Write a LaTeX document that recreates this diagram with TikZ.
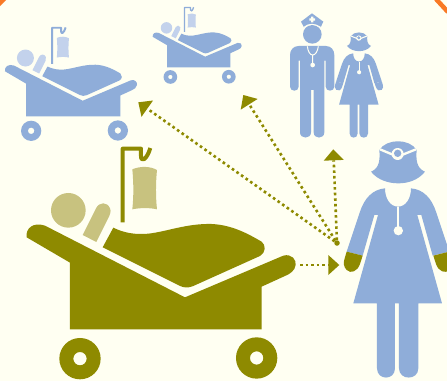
\documentclass[tikz,border=0pt]{standalone}
\usetikzlibrary{arrows.meta}
\definecolor{bgivory}{HTML}{FFFFF2}
\definecolor{olivem}{HTML}{8E8A00}
\definecolor{olivel}{HTML}{C8C27F}
\definecolor{bluem}{HTML}{8FADD9}
\definecolor{bluel}{HTML}{C3D2EC}
\definecolor{cornor}{HTML}{F97A26}
\tikzset{
  dotline/.style={draw=olivem,line width=2.6pt,line cap=butt,dash pattern=on 2.6pt off 3pt,
    -{Triangle[length=11pt,width=20pt,round=false,fill=olivem,line width=0pt]}},
  hubdot/.style={circle,fill=olivem,inner sep=0pt,minimum size=5.5pt},
}
% #1 x, #2 y, #3 scale, #4 main colour, #5 light colour
\newcommand{\bedicon}[5]{%
\begin{scope}[shift={(#1,#2)},scale=#3]
  \fill[#4] (20,292) .. controls (16,265) and (40,245) .. (75,257) -- (495,472) -- (790,347)
    .. controls (815,340) and (830,360) .. (827,375) .. controls (825,392) and (810,402) .. (795,408)
    -- (725,440) -- (725,568) -- (150,568) -- (150,368) -- cycle;
  \fill[#4] (280,263) .. controls (310,278) and (345,285) .. (385,281)
    .. controls (440,275) and (500,250) .. (575,252) .. controls (640,255) and (690,285) .. (725,305)
    .. controls (738,315) and (738,338) .. (720,348) -- (520,438)
    .. controls (505,445) and (490,443) .. (478,437) -- (248,322) -- cycle;
  \fill[#5] (145,211) circle (52);
  \fill[#5] (188,285) -- (228,205) .. controls (238,185) and (262,185) .. (270,205)
    .. controls (274,215) and (270,222) .. (268,228) -- (229,306) -- cycle;
  \draw[#4,line width=12*#3 pt,line join=round] (308,247) -- (308,26) -- (363,26) -- (363,48)
    .. controls (363,68) and (380,60) .. (391,24);
  \fill[#5] (337,88) .. controls (360,78) and (390,78) .. (411,90) .. controls (407,130) and (407,170) .. (411,208)
    .. controls (390,203) and (360,203) .. (337,208) .. controls (341,170) and (341,130) .. (337,88) -- cycle;
  \fill[#4,even odd rule] (180,656) circle (62) (180,656) circle (20);
  \fill[#4,even odd rule] (710,654) circle (62) (710,654) circle (20);
\end{scope}}
% #1 x, #2 y, #3 scale, #4 hand colour
\newcommand{\womanicon}[4]{%
\begin{scope}[shift={(#1,#2)},scale=#3]
  \fill[bluem] (148,60) .. controls (170,25) and (238,25) .. (260,60)
    .. controls (258,85) and (258,115) .. (285,125) .. controls (265,150) and (235,160) .. (205,160)
    .. controls (175,160) and (143,150) .. (123,125) .. controls (150,115) and (150,85) .. (148,60) -- cycle;
  \draw[bgivory,line width=7*#3 pt] (150,58) -- (203,80) -- (258,58);
  \fill[bgivory] (203,72) circle (18);
  \fill[bluem] (203,70) circle (11);
  \fill[bluem] (165,175) .. controls (165,205) and (180,230) .. (204,230) .. controls (228,230) and (243,205) .. (243,175)
    .. controls (280,178) and (305,205) .. (318,245) -- (358,365) -- (308,377) -- (274,255) -- (262,255) -- (336,520)
    -- (265,520) -- (265,715) .. controls (265,752) and (207,752) .. (207,715) -- (207,520) -- (195,520) -- (195,715)
    .. controls (195,752) and (141,752) .. (141,715) -- (141,520) -- (70,520) -- (144,255) -- (133,255)
    -- (98,377) -- (50,365) -- (90,245) .. controls (103,205) and (128,178) .. (165,175) -- cycle;
  \fill[#4] (50,365) -- (98,377) -- (90,402) .. controls (82,425) and (62,432) .. (50,420)
    .. controls (40,410) and (40,398) .. (44,385) -- cycle;
  \fill[#4] (358,365) -- (310,377) -- (318,402) .. controls (326,425) and (346,432) .. (358,420)
    .. controls (368,410) and (368,398) .. (364,385) -- cycle;
  \draw[bgivory,line width=6*#3 pt] (204,230) -- (204,295);
  \fill[bgivory] (205,302) circle (14);
\end{scope}}
\begin{document}
\begin{tikzpicture}[x=1pt,y=-1pt]
  \useasboundingbox (0,0) rectangle (447,381);
  \clip (0,0) rectangle (447,381);
  \fill[bgivory] (0,0) rectangle (447,381);
  \fill[cornor] (0,0) -- (6,0) -- (0,6) -- cycle;
  \draw[cornor,line width=4.5pt] (436,-1) -- (448,12);

  % beds
  \bedicon{20}{140}{0.3333}{olivem}{olivel}
  \bedicon{1.7}{23.5}{0.1636}{bluem}{bluel}
  \bedicon{150.5}{4.6}{0.1103}{bluem}{bluel}

  % male nurse
  \begin{scope}[shift={(280,0)},scale=0.3333]
    \fill[bluem] (97,103) circle (28);
    \fill[bluem] (63,65) -- (96,40) -- (130,65) -- (122,82) .. controls (105,70) and (85,70) .. (72,82) -- cycle;
    \draw[bgivory,line width=1pt] (72,82) .. controls (85,70) and (105,70) .. (122,82);
    \fill[bgivory] (93,50) rectangle (100,67) (88,55) rectangle (105,62);
    \fill[bluem] (56,138) -- (138,138) .. controls (153,138) and (163,150) .. (163,165) -- (163,260)
      .. controls (163,276) and (137,276) .. (137,260) -- (137,182) -- (133,182) -- (133,397)
      .. controls (133,418) and (101,418) .. (101,397) -- (101,270) -- (93,270) -- (93,397)
      .. controls (93,418) and (60,418) .. (60,397) -- (60,182) -- (56,182) -- (56,260)
      .. controls (56,276) and (30,276) .. (30,260) -- (30,165) .. controls (30,150) and (40,138) .. (56,138) -- cycle;
    \draw[bgivory,line width=1pt] (82,139) .. controls (84,155) and (90,165) .. (98,165)
      .. controls (106,165) and (113,155) .. (115,139) (98,165) -- (98,190);
    \fill[bgivory] (98,195) circle (7);
  \end{scope}

  % women
  \womanicon{328.7}{27.4}{0.1484}{bluem}
  \womanicon{330}{130}{0.3333}{olivem}

  % connectors
  \node[hubdot] (hub) at (337,243) {};
  \coordinate (bedend) at (300,265);
  \coordinate (tobedA) at (138.3,102.3);
  \coordinate (tobedB) at (243.3,95);
  \coordinate (tostaff) at (333.3,149.3);
  \coordinate (tonurse) at (339.3,265);
  \draw[dotline] (hub) -- (tobedA);
  \draw[dotline] (hub) -- (tobedB);
  \draw[dotline] (hub) -- (tostaff);
  \draw[dotline] (bedend) -- (tonurse);
\end{tikzpicture}
\end{document}
